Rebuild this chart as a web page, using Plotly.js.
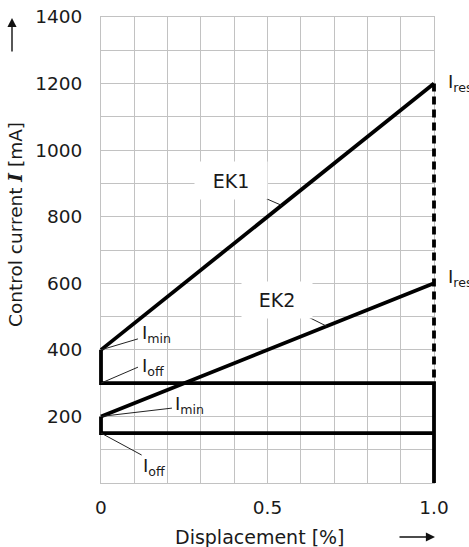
<!DOCTYPE html>
<html>
<head>
<meta charset="utf-8">
<script src="https://cdn.plot.ly/plotly-3.0.1.min.js"></script>
<style>html,body{margin:0;padding:0;background:#fff;}#chart{width:469px;height:547px;}</style>
</head>
<body>
<div id="chart"></div>
<script>
// ---- data ----
const displacement = [0, 1.0];
const ek1Current = [400, 1200];          // EK1: I_min -> I_res
const ek2Current = [200, 600];           // EK2: I_min -> I_res
const ek1StepX = [0, 0, 1.0, 1.0];
const ek1StepY = [400, 300, 300, 0];     // I_min -> I_off
const ek2StepX = [0, 0, 1.0];
const ek2StepY = [200, 150, 150];
const resX = [1.0, 1.0];
const resY = [1200, 300];                // dashed I_res drop
const xTickVals = [0, 0.5, 1.0];
const xTickText = ['0', '0.5', '1.0'];
const yTickVals = [200, 400, 600, 800, 1000, 1200, 1400];

const FONT = 'DejaVu Sans, sans-serif';
const TXT = '#1a1a1a';
const GRID = '#c2c2c2';
const LW = 3.8;

const lineStyle = {color: '#000', width: LW};
const traces = [
  {x: displacement, y: ek1Current, mode: 'lines', line: lineStyle, xaxis: 'x2', yaxis: 'y2', hoverinfo: 'skip'},
  {x: displacement, y: ek2Current, mode: 'lines', line: lineStyle, xaxis: 'x2', yaxis: 'y2', hoverinfo: 'skip'},
  {x: ek1StepX, y: ek1StepY, mode: 'lines', line: lineStyle, xaxis: 'x2', yaxis: 'y2', hoverinfo: 'skip'},
  {x: ek2StepX, y: ek2StepY, mode: 'lines', line: lineStyle, xaxis: 'x2', yaxis: 'y2', hoverinfo: 'skip'},
  {x: resX, y: resY, mode: 'lines', line: {color: '#000', width: 3.8, dash: '8px,5px'}, xaxis: 'x2', yaxis: 'y2', hoverinfo: 'skip'}
];

// geometry: margins l=91, r=25 -> width 353; inner grid 10px inset each side
const W = 353, inset = 10, unit = W - 2 * inset;
const pad = inset / unit;

function leader(x0, y0, x1, y1) {
  return {type: 'line', xref: 'x', yref: 'y', x0: x0, y0: y0, x1: x1, y1: y1, line: {color: '#222', width: 1}};
}
function lbl(text, x, y) {
  return {text: text, x: x, y: y, xref: 'x', yref: 'y', xanchor: 'left', yanchor: 'middle', showarrow: false,
          font: {family: FONT, size: 18, color: TXT}};
}

const layout = {
  width: 469, height: 547,
  margin: {l: 91, r: 25, t: 17, b: 64, pad: 0},
  paper_bgcolor: '#fff', plot_bgcolor: 'rgba(0,0,0,0)',
  showlegend: false,
  font: {family: FONT, size: 18, color: TXT},
  xaxis: {
    domain: [inset / W, 1 - inset / W], range: [0, 1.0],
    tickvals: xTickVals, ticktext: xTickText, ticks: '', ticklabelstandoff: 8,
    showgrid: true, gridcolor: GRID, gridwidth: 1,
    minor: {tick0: 0, dtick: 0.1, showgrid: true, gridcolor: GRID, gridwidth: 1},
    zeroline: false, showline: true, mirror: true, linecolor: GRID, linewidth: 1,
    tickfont: {family: FONT, size: 18.5, color: TXT}, fixedrange: true
  },
  yaxis: {
    range: [0, 1400], tickvals: yTickVals, ticks: '', ticklabelstandoff: 14,
    showgrid: true, gridcolor: GRID, gridwidth: 1,
    minor: {tick0: 0, dtick: 100, showgrid: true, gridcolor: GRID, gridwidth: 1},
    zeroline: false, showline: true, mirror: true, linecolor: GRID, linewidth: 1,
    tickfont: {family: FONT, size: 18.5, color: TXT}, fixedrange: true
  },
  xaxis2: {domain: [0, 1], range: [-pad, 1 + pad], visible: false, anchor: 'y2', fixedrange: true},
  yaxis2: {range: [0, 1400], visible: false, anchor: 'x2', overlaying: 'y', fixedrange: true},
  shapes: [
    leader(0, 400, 0.111, 433),
    leader(0, 300, 0.111, 348),
    leader(0, 200, 0.213, 225),
    leader(0, 150, 0.122, 84),
    leader(0.465, 868, 0.5426, 834),
    leader(0.6036, 508, 0.6778, 471)
  ],
  annotations: [
    lbl('I<sub>min</sub>', 0.117, 449),
    lbl('I<sub>off</sub>', 0.117, 349),
    lbl('I<sub>min</sub>', 0.216, 234),
    lbl('I<sub>off</sub>', 0.120, 47),
    Object.assign(lbl('I<sub>res</sub>', 1.0, 1202), {xshift: 12}),
    Object.assign(lbl('I<sub>res</sub>', 1.0, 616), {xshift: 12}),
    {text: 'EK1', x: 0.390, y: 910, xref: 'x', yref: 'y', showarrow: false, bgcolor: '#fff', width: 70, height: 35,
     font: {family: FONT, size: 19, color: TXT}},
    {text: 'EK2', x: 0.5285, y: 551, xref: 'x', yref: 'y', showarrow: false, bgcolor: '#fff', width: 68, height: 34,
     font: {family: FONT, size: 19, color: TXT}},
    {text: 'Control current <b><i><span style="font-family:DejaVu Serif">I</span></i></b> [mA]', textangle: -90,
     xref: 'paper', yref: 'paper', x: (15 - 91) / W, y: (483 - 225) / 466, xanchor: 'center', yanchor: 'middle',
     showarrow: false, font: {family: FONT, size: 18.5, color: TXT}},
    {text: 'Displacement [%]', xref: 'paper', yref: 'paper', x: (260 - 91) / W, y: (483 - 537) / 466,
     xanchor: 'center', yanchor: 'middle', showarrow: false, font: {family: FONT, size: 19, color: TXT}},
    {text: '', xref: 'paper', yref: 'paper', x: (12 - 91) / W, y: (483 - 18) / 466, ax: 0, ay: 35,
     showarrow: true, arrowhead: 2, arrowsize: 1.3, arrowwidth: 1.4, arrowcolor: '#111'},
    {text: '', xref: 'paper', yref: 'paper', x: (435 - 91) / W, y: (483 - 537) / 466, ax: -37, ay: 0,
     showarrow: true, arrowhead: 2, arrowsize: 1.3, arrowwidth: 1.4, arrowcolor: '#111'}
  ]
};

Plotly.newPlot('chart', traces, layout, {staticPlot: true, displayModeBar: false});
</script>
</body>
</html>
